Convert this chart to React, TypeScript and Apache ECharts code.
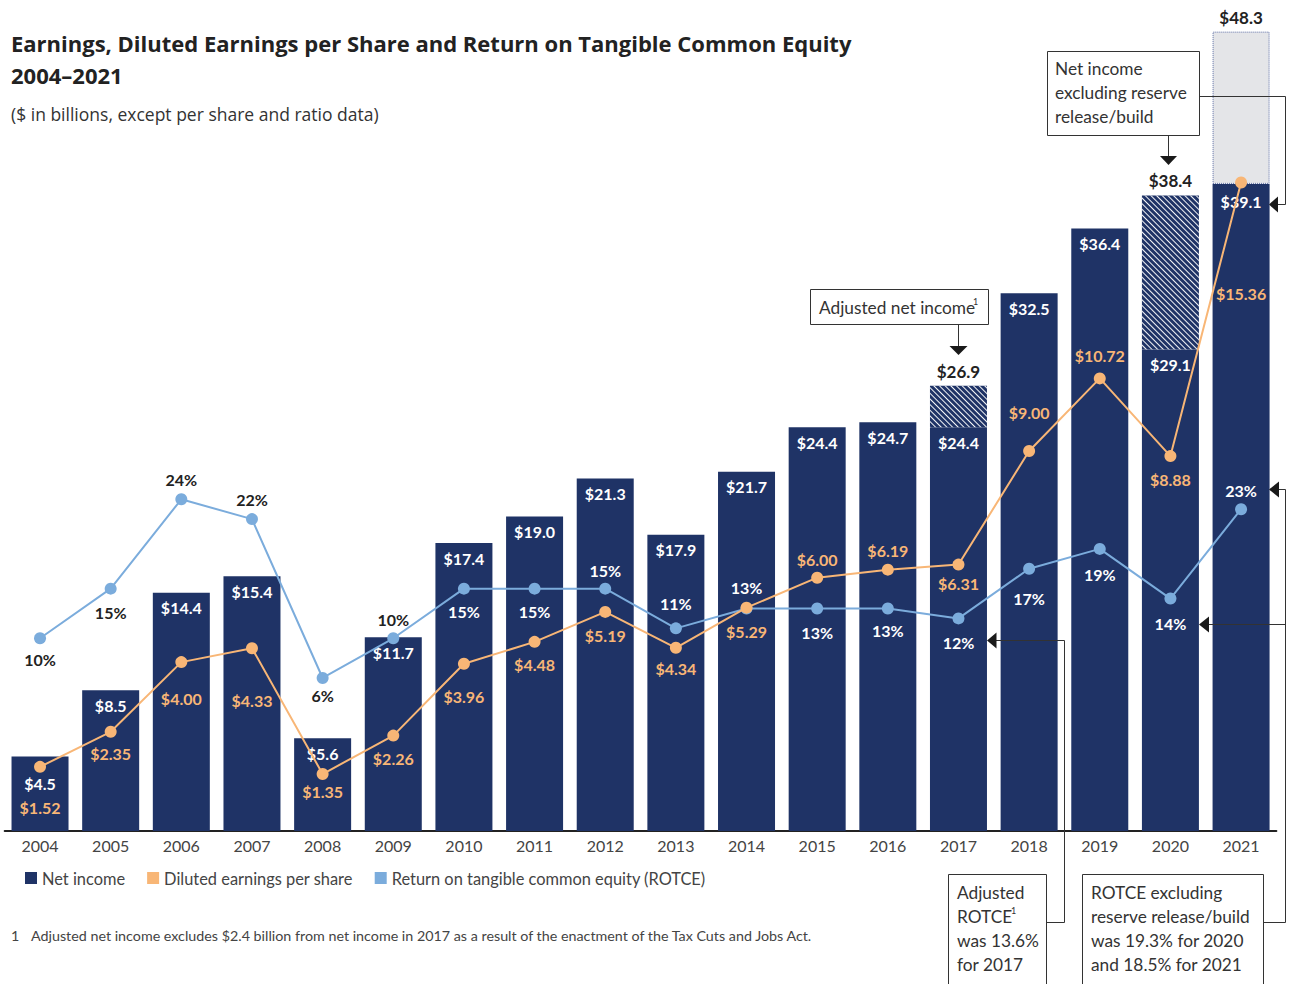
import React, { useEffect, useRef } from "react";
import * as echarts from "echarts";

const years = ["2004","2005","2006","2007","2008","2009","2010","2011","2012","2013","2014","2015","2016","2017","2018","2019","2020","2021"];
const netIncome = [4.5, 8.5, 14.4, 15.4, 5.6, 11.7, 17.4, 19.0, 21.3, 17.9, 21.7, 24.4, 24.7, 24.4, 32.5, 36.4, 29.1, 39.1];
const adjustedTotals = [null, null, null, null, null, null, null, null, null, null, null, null, null, 26.9, null, null, 38.4, 48.3];
const eps = [1.52, 2.35, 4.0, 4.33, 1.35, 2.26, 3.96, 4.48, 5.19, 4.34, 5.29, 6.0, 6.19, 6.31, 9.0, 10.72, 8.88, 15.36];
const rotce = [10, 15, 24, 22, 6, 10, 15, 15, 15, 11, 13, 13, 13, 12, 17, 19, 14, 23];

const epsLabelDy = [41, 22, 36, 52, 17, 23, 33, 23, 24, 21, 24, -18, -19, 19, -39, -23, 23, 111];
const rotceLabelDy = [21, 24, -20, -20, 18, -19, 23, 23, -18, -25, -21, 24, 22, 24, 30, 26, 25, -19];

const NAVY = "#1f3366";
const ORANGE = "#f8b676";
const BLUE = "#7bacdc";
const DARK = "#222222";
const FONT = "Lato";

export default function App() {
  const ref = useRef<HTMLDivElement>(null);
  useEffect(() => {
    if (!ref.current) return;
    const chart = echarts.init(ref.current, null, { renderer: "svg" });

    const hatch = {
      symbol: "rect",
      symbolSize: 1,
      color: "rgba(255,255,255,0.95)",
      dashArrayX: [1, 0],
      dashArrayY: [1, 2.2],
      rotation: Math.PI / 4,
    };

    const extraData = adjustedTotals.map((t, i) => {
      if (t === null) return "-";
      const v = +(t - netIncome[i]).toFixed(1);
      if (i === 17) {
        return {
          value: v,
          itemStyle: { color: "#e4e5e8", borderColor: "#5b6ca3", borderWidth: 1, borderType: "dotted" },
        };
      }
      return { value: v, itemStyle: { color: NAVY, decal: hatch } };
    });

    const niData = netIncome.map((v, i) => {
      if (i === 0) return { value: v, label: { offset: [0, 12] } };
      if (i === 17) return { value: v, label: { offset: [0, 3] } };
      return v;
    });

    const epsData = eps.map((v, i) => ({ value: v, label: { offset: [0, epsLabelDy[i]] } }));
    const rotceData = rotce.map((v, i) => ({
      value: v,
      label: { offset: [0, rotceLabelDy[i]], color: i <= 5 ? DARK : "#ffffff" },
    }));

    const txt = (text: string, x: number, y: number, size: number, opts: any = {}) => ({
      type: "text",
      x,
      y,
      style: {
        text,
        fill: opts.fill || "#333333",
        fontSize: size,
        fontFamily: opts.family || FONT,
        fontWeight: opts.weight || "normal",
        textAlign: opts.align || "left",
        textVerticalAlign: "middle",
      },
      z: 100,
    });
    const ln = (pts: number[][]) => ({
      type: "polyline",
      shape: { points: pts },
      style: { stroke: "#333333", lineWidth: 1, fill: null },
      z: 100,
    });
    const tri = (pts: number[][]) => ({
      type: "polygon",
      shape: { points: pts },
      style: { fill: "#1a1a1a" },
      z: 100,
    });
    const box = (x: number, y: number, w: number, h: number) => ({
      type: "rect",
      shape: { x: x + 0.5, y: y + 0.5, width: w, height: h },
      style: { stroke: "#333333", lineWidth: 1, fill: "#ffffff" },
      z: 99,
    });

    const AS = 17.3; // annotation font size

    const option: any = {
      animation: false,
      textStyle: { fontFamily: FONT },
      grid: { left: 4.7, right: 21.6, top: 3.5, bottom: 153, containLabel: false },
      legend: {
        left: 20,
        top: 865,
        icon: "rect",
        itemWidth: 12,
        itemHeight: 12,
        itemGap: 22,
        data: ["Net income", "Diluted earnings per share", "Return on tangible common equity (ROTCE)"],
        textStyle: { color: "#444444", fontSize: 16.4, fontFamily: FONT },
      },
      xAxis: {
        type: "category",
        data: years,
        axisTick: { show: false },
        axisLine: { lineStyle: { color: DARK, width: 2 } },
        axisLabel: { color: "#444444", fontSize: 16, margin: 6, fontFamily: FONT },
      },
      yAxis: [
        { type: "value", min: 0, max: 50, show: false, splitLine: { show: false } },
        { type: "value", min: 0, max: 19.6, show: false, splitLine: { show: false } },
        { type: "value", min: -9.41, max: 73.93, show: false, splitLine: { show: false } },
      ],
      series: [
        {
          name: "Net income",
          type: "bar",
          stack: "ni",
          yAxisIndex: 0,
          barWidth: 57,
          itemStyle: { color: NAVY },
          data: niData,
          label: {
            show: true,
            position: "insideTop",
            distance: 7,
            color: "#ffffff",
            fontSize: 16,
            fontWeight: "bold",
            fontFamily: FONT,
            formatter: (p: any) => "$" + Number(p.value).toFixed(1),
          },
          z: 2,
        },
        {
          name: "Adjusted",
          type: "bar",
          stack: "ni",
          yAxisIndex: 0,
          barWidth: 57,
          data: extraData,
          label: {
            show: true,
            position: "top",
            distance: 6,
            color: DARK,
            fontSize: 17,
            fontWeight: "bold",
            fontFamily: FONT,
            formatter: (p: any) => "$" + Number(adjustedTotals[p.dataIndex]).toFixed(1),
          },
          z: 2,
        },
        {
          name: "Return on tangible common equity (ROTCE)",
          type: "line",
          yAxisIndex: 2,
          data: rotceData,
          symbol: "circle",
          symbolSize: 12,
          lineStyle: { color: BLUE, width: 2 },
          itemStyle: { color: BLUE },
          label: {
            show: true,
            position: "inside",
            fontSize: 16,
            fontWeight: "bold",
            fontFamily: FONT,
            formatter: (p: any) => p.value + "%",
          },
          z: 5,
        },
        {
          name: "Diluted earnings per share",
          type: "line",
          yAxisIndex: 1,
          data: epsData,
          symbol: "circle",
          symbolSize: 12,
          lineStyle: { color: ORANGE, width: 2 },
          itemStyle: { color: ORANGE },
          label: {
            show: true,
            position: "inside",
            color: ORANGE,
            fontSize: 16,
            fontWeight: "bold",
            fontFamily: FONT,
            formatter: (p: any) => "$" + Number(p.value).toFixed(2),
          },
          z: 6,
        },
      ],
      graphic: [
        txt("Earnings, Diluted Earnings per Share and Return on Tangible Common Equity", 11, 43, 22, { weight: "bold", fill: "#222222", family: "Open Sans" }),
        txt("2004–2021", 11, 75, 22, { weight: "bold", fill: "#222222", family: "Open Sans" }),
        txt("($ in billions, except per share and ratio data)", 11, 114, 17.5, { fill: "#333333", family: "Open Sans" }),
        txt("1", 11, 935, 14.3, { fill: "#444444" }),
        txt("Adjusted net income excludes $2.4 billion from net income in 2017 as a result of the enactment of the Tax Cuts and Jobs Act.", 31, 935, 14.3, { fill: "#444444" }),
        // Box 1: Net income excluding reserve release/build
        box(1047, 51, 152, 84),
        txt("Net income", 1055, 68, AS),
        txt("excluding reserve", 1055, 92, AS),
        txt("release/build", 1055, 116, AS),
        ln([[1168.5, 135.5], [1168.5, 157]]),
        tri([[1160, 156], [1177, 156], [1168.5, 165]]),
        ln([[1199.5, 96.5], [1285.5, 96.5], [1285.5, 204.5], [1276, 204.5]]),
        tri([[1269, 204.5], [1278, 196.5], [1278, 212.5]]),
        // Box 2: Adjusted net income
        box(810, 289, 178, 35),
        txt("Adjusted net income", 819, 307, AS),
        txt("1", 973, 301, 9),
        ln([[958.5, 324.5], [958.5, 347]]),
        tri([[949.5, 346], [967.5, 346], [958.5, 355]]),
        // Box 3: Adjusted ROTCE
        box(948, 874, 98, 120),
        txt("Adjusted", 957, 892, AS),
        txt("ROTCE", 957, 916, AS),
        txt("1", 1011, 910, 9),
        txt("was 13.6%", 957, 940, AS),
        txt("for 2017", 957, 964, AS),
        ln([[1046.5, 922.5], [1064.5, 922.5], [1064.5, 640.5], [995, 640.5]]),
        tri([[987, 640.5], [996.5, 632.5], [996.5, 648.5]]),
        // Box 4: ROTCE excluding reserve release/build
        box(1082, 874, 181, 120),
        txt("ROTCE excluding", 1091, 892, AS),
        txt("reserve release/build", 1091, 916, AS),
        txt("was 19.3% for 2020", 1091, 940, AS),
        txt("and 18.5% for 2021", 1091, 964, AS),
        ln([[1263.5, 922.5], [1285.5, 922.5], [1285.5, 489.5], [1278, 489.5]]),
        tri([[1269, 489.5], [1279, 481.5], [1279, 497.5]]),
        ln([[1285.5, 624.5], [1208, 624.5]]),
        tri([[1199, 624.5], [1209, 616.5], [1209, 632.5]]),
      ],
    };
    chart.setOption(option);
    return () => chart.dispose();
  }, []);
  return <div ref={ref} style={{ position: "absolute", left: 0, top: 0, width: 1298, height: 984 }} />;
}
